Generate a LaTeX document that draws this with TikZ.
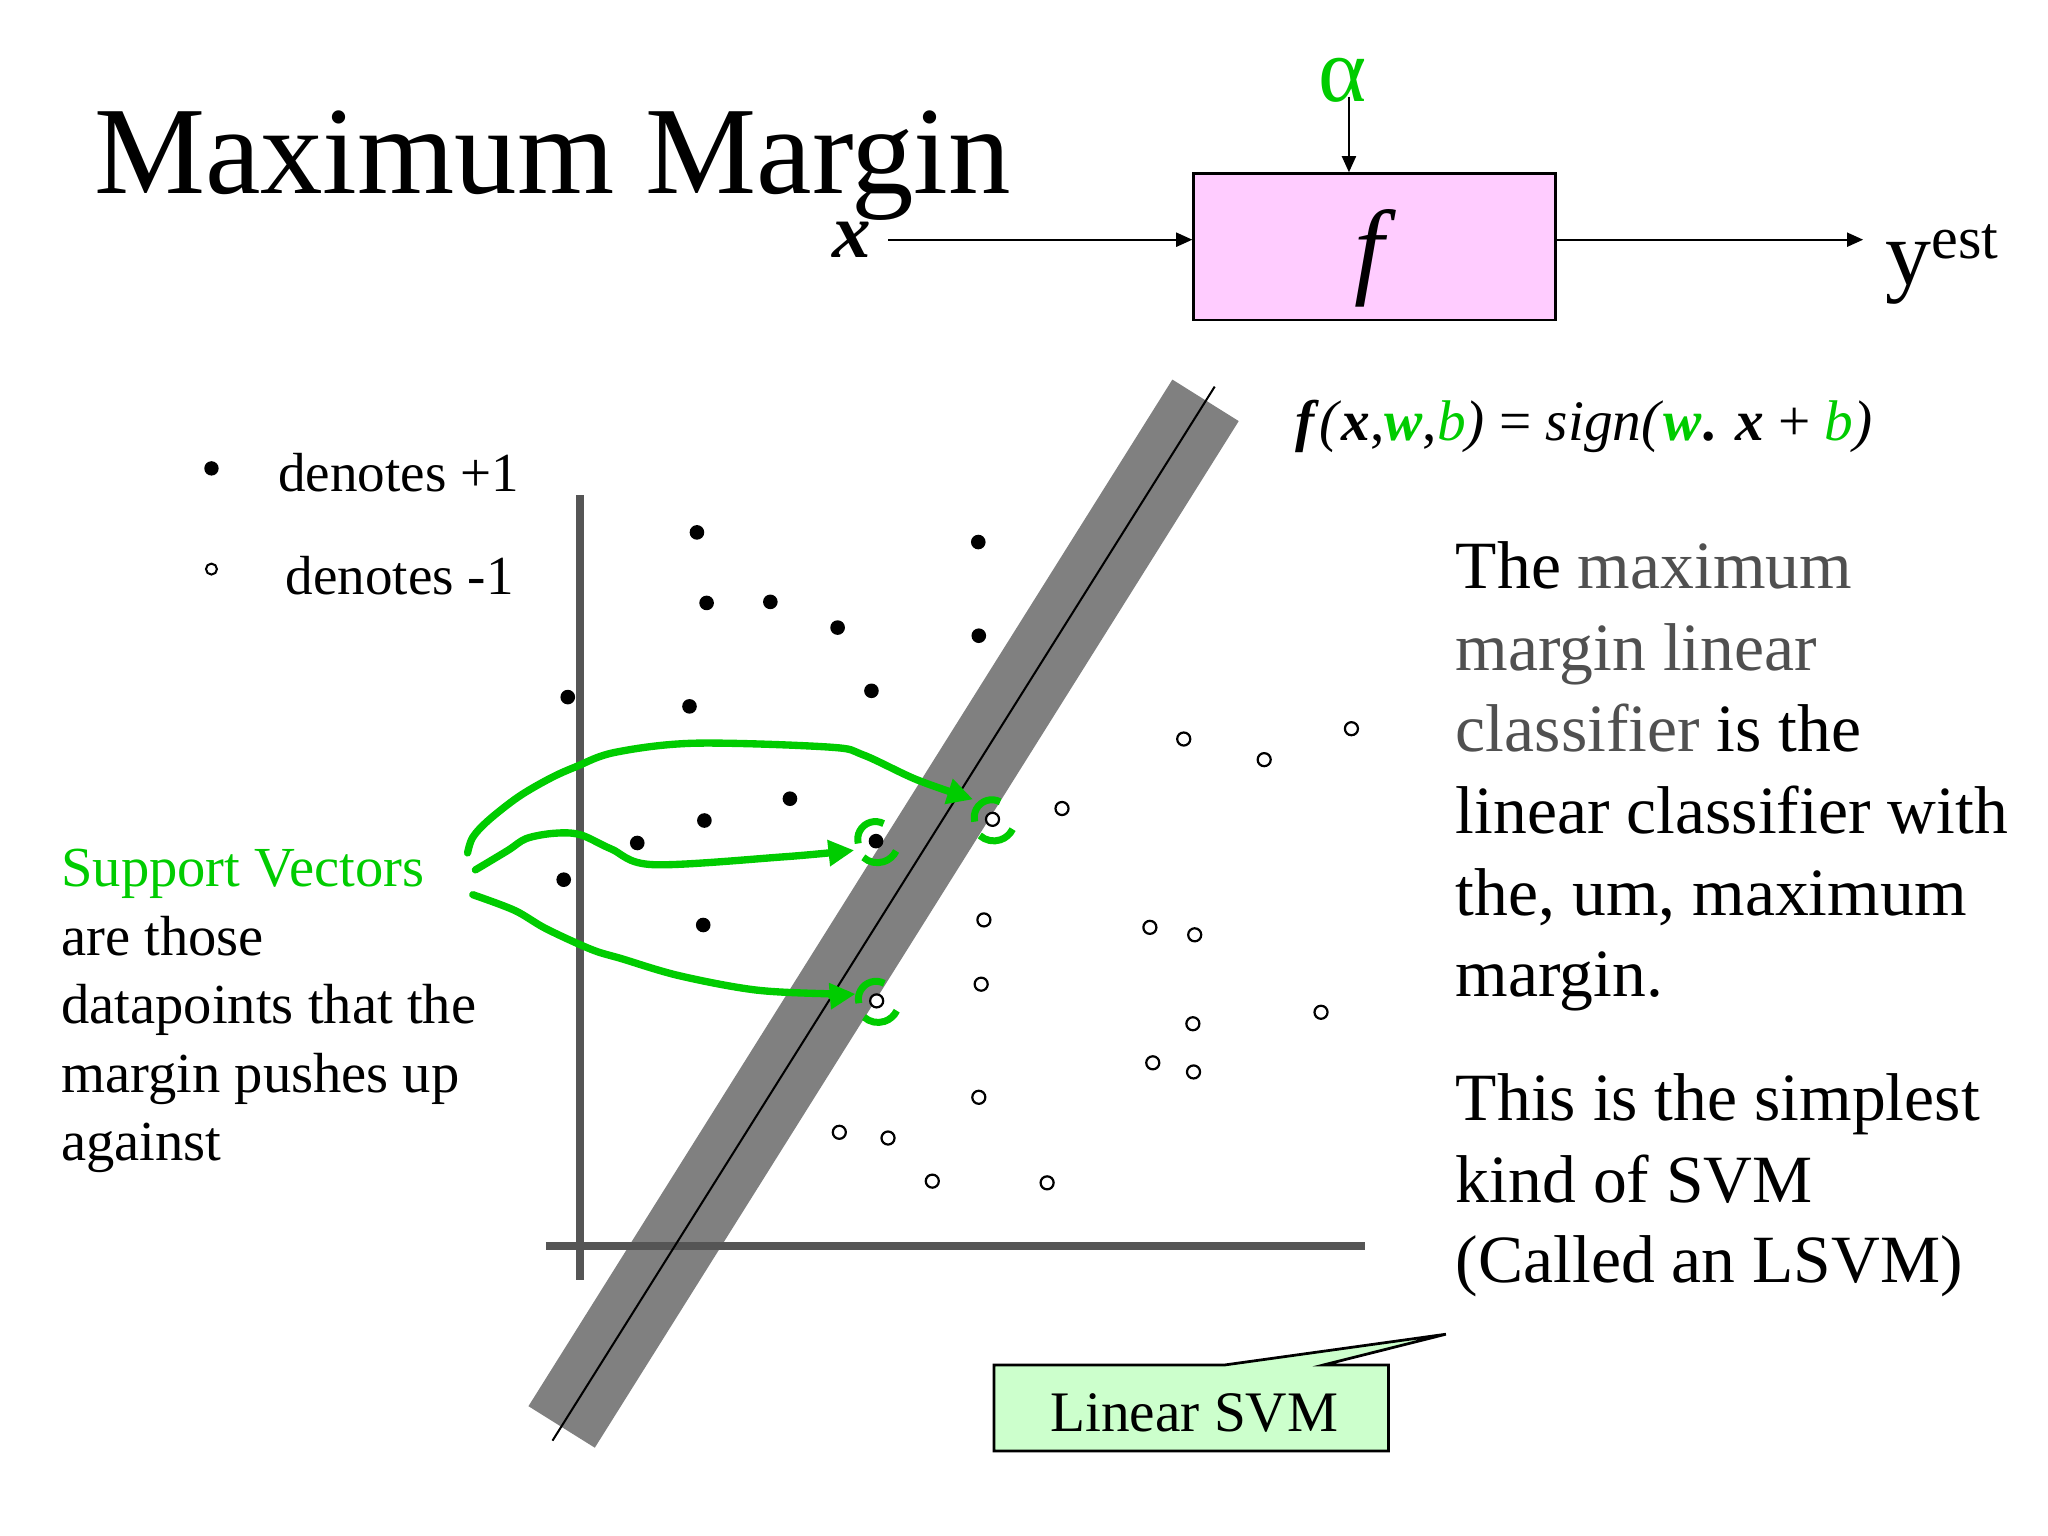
\documentclass[tikz,border=0pt]{standalone}
\usepackage{fontspec}
\setmainfont{Liberation Serif}
\usetikzlibrary{arrows.meta}
\definecolor{svgreen}{RGB}{0,204,0}
\definecolor{txtgray}{RGB}{80,80,80}
\definecolor{axisgray}{RGB}{85,85,85}
\definecolor{bandgray}{RGB}{128,128,128}
\definecolor{boxpink}{RGB}{255,204,255}
\definecolor{calloutgreen}{RGB}{204,255,204}
\newcommand{\fsz}[2]{\fontsize{#1}{#2}\selectfont}
\newcommand{\svmark}[2]{%
  \draw[svarc] (#1,#2) ++(-0.5,-1.5) ++(-62:13.5) arc[start angle=-62, end angle=-194, radius=13.5];
  \draw[svarc] (#1,#2) ++(1,0.5) ++(132:16) arc[start angle=132, end angle=26, radius=16];}
\begin{document}
\begin{tikzpicture}[x=0.0125cm,y=-0.0125cm,
  txt/.style={inner sep=0pt, outer sep=0pt, anchor=base west},
  rtxt/.style={txt, font=\fsz{18.4}{22}},
  ltxt/.style={txt, font=\fsz{15.4}{18}},
  blkarrow/.style={line width=0.6pt, -{Triangle[length=4.4pt,width=3.8pt]}},
  svarrow/.style={draw=svgreen, line width=2pt, line cap=round, line join=round, -{Triangle[length=7pt,width=6.8pt]}},
  svarc/.style={draw=svgreen, line width=1.9pt},
  axisline/.style={draw=axisgray, line width=2.1pt},
  posdot/.style={fill=black},
  negdot/.style={draw=black, fill=white, line width=0.6pt}]
\useasboundingbox (0,0) rectangle (1568,1176);
\fill[white] (0,0) rectangle (1568,1176);

% title
\node[txt, font=\fsz{34}{40}] (title) at (72,148) {Maximum Margin};

% f box
\node[draw=black, fill=boxpink, line width=0.75pt, minimum width=3.4625cm, minimum height=1.4cm, inner sep=0pt] (fbox) at (1052.5,189) {};
\node[inner sep=0pt, anchor=base, font=\fsz{29}{32}\itshape] (flab) at (1048,218) {f};
\node[inner xsep=0.16cm, inner ysep=0pt, font=\fsz{21}{24}\bfseries\itshape] (xlab) at (652,183.5) {x};
\node[inner xsep=0.206cm, inner ysep=0pt, anchor=base west, font=\fsz{25}{28}] (yest) at (1426.5,218) {y\raisebox{20\dimexpr 0.0125cm\relax}{\fsz{16.4}{18}est}};
\node[inner sep=0pt, anchor=base, font=\fsz{25}{28}, text=svgreen] (alpha) at (1028,78) {α};
\coordinate (atail) at (1032.8,74);
\draw[blkarrow] (xlab.east) -- (xlab.east -| fbox.west);
\draw[blkarrow] (xlab.east -| fbox.east) -- (xlab.east -| yest.west);
\draw[blkarrow] (atail) -- (atail |- fbox.north);

% formula
\node[txt, font=\fsz{15.6}{18}] (formula) at (992,337) {\textbf{\textit{f}}\textit{(}\textbf{\textit{x}},{\color{svgreen}\textbf{\textit{w}}},{\color{svgreen}\textit{b}}\textit{)} = \textit{sign(}{\color{svgreen}\textbf{\textit{w}}}\textbf{.} \textbf{\textit{x}} + {\color{svgreen}\textit{b}}\textit{)}};

% legend
\fill (161.9,358.6) circle[radius=5.5];
\draw[line width=0.55pt] (161.9,435.7) circle[radius=4.2];
\node[txt, font=\fsz{15}{18}] (leg1) at (213,376.5) {denotes +1};
\node[txt, font=\fsz{15}{18}] (leg2) at (218.8,454.8) {denotes -1};

% margin band
\fill[bandgray] (897.6,290.6) -- (948.4,322.4) -- (455.4,1108.4) -- (404.6,1076.6) -- cycle;
% axes
\draw[axisline] (444,379) -- (444,980);
\draw[axisline] (418,954) -- (1045,954);
% decision line
\draw[line width=0.55pt] (930,296) -- (423,1103);

% positive points
\foreach \p in {(533.6,407.6),(749,415),(541,461.6),(589.8,460.8),(641.3,480.5),(749.4,486.7),(434.7,533.7),(527.9,540.8),(667.2,528.9),(604.8,611.5),(539.3,628.2),(487.9,645.4),(670.7,644),(431.6,673.5),(538.4,708.2)}
  \fill[posdot] \p circle[radius=5.6];
% negative points
\foreach \p in {(906.3,565.8),(967.9,581.6),(1034.7,557.9),(813.1,619),(759.9,627.3),(753.3,704.3),(880.4,710),(914.7,715.7),(751.2,753.5),(671.2,766.3),(1011.4,775),(913.3,783.8),(882.6,813.7),(913.8,820.7),(749.4,840.1),(642.6,866.9),(679.9,871.3),(713.8,904.3),(801.7,905.6)}
  \draw[negdot] \p circle[radius=5];

% support vector marks
\svmark{670.7}{644}
\svmark{759.9}{627.3}
\svmark{671.2}{766.3}

% left text
\node[ltxt, text=svgreen] (sv1) at (47,679) {Support Vectors};
\node[ltxt] (sv2) at (47,731.2) {are those};
\node[ltxt] (sv3) at (47,783.6) {datapoints that the};
\node[ltxt] (sv4) at (47,836.7) {margin pushes up};
\node[ltxt] (sv5) at (47,888.7) {against};

% green arrows
\draw[svarrow] plot[smooth, tension=0.55] coordinates {(358,653) (362,641) (374,628) (397,610) (421,596) (441,587) (471,576) (532,569) (635,572) (661,578) (702,597) (745,612)};
\draw[svarrow] plot[smooth, tension=0.55] coordinates {(364,666) (389,651) (403,642) (424,638) (444,639) (468,650) (500,662) (600,656) (654,651)};
\draw[svarrow] plot[smooth, tension=0.55] coordinates {(362,685) (394,697) (418,711) (453,727) (476,734) (520,747) (579,758) (638,761) (655,761)};

% right text
\node[rtxt] (r1) at (1114.7,450.5) {The {\color{txtgray}maximum}};
\node[rtxt, text=txtgray] (r2) at (1114.7,513) {margin linear};
\node[rtxt] (r3) at (1114.7,575.5) {{\color{txtgray}classifier} is the};
\node[rtxt] (r4) at (1114.7,638) {linear classifier with};
\node[rtxt] (r5) at (1114.7,700.6) {the, um, maximum};
\node[rtxt] (r6) at (1114.7,763.2) {margin.};
\node[rtxt] (r7) at (1114.7,857.6) {This is the simplest};
\node[rtxt] (r8) at (1114.7,920.6) {kind of SVM};
\node[rtxt] (r9) at (1114.7,982.2) {(Called an LSVM)};

% callout
\draw[fill=calloutgreen, line width=0.75pt, line join=miter] (761,1045) -- (938,1045) -- (1107,1021.5) -- (1013.5,1045) -- (1063,1045) -- (1063,1111) -- (761,1111) -- cycle;
\node[txt, font=\fsz{15.6}{18}] (lsvm) at (804,1096.2) {Linear SVM};
\end{tikzpicture}
\end{document}
